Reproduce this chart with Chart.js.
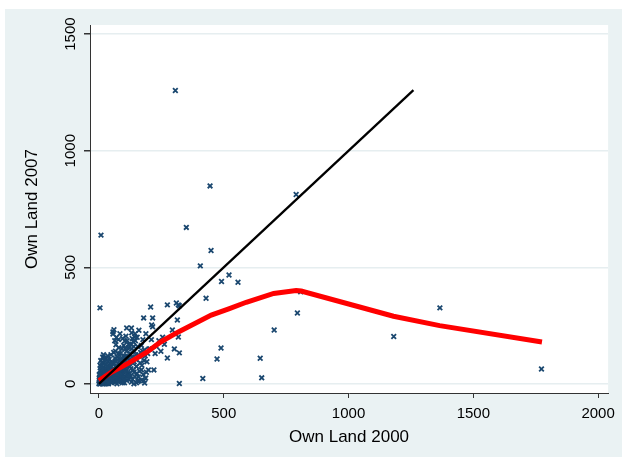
<!DOCTYPE html>
<html>
<head>
<meta charset="utf-8">
<script src="https://cdn.jsdelivr.net/npm/chart.js@4"></script>
<style>
  html, body { margin: 0; padding: 0; background: #fff; }
  #wrap { width: 622px; height: 457px; }
</style>
</head>
<body>
<div id="wrap"><canvas id="myChart" width="622" height="457"></canvas></div>
<script>
'use strict';

// scatter: own land in 2000 (x) vs own land in 2007 (y)
const ownLand2000 = [
  306,445,790,350,8,449,406,521,491,557,429,4,1366,795,1181,702,1773,489,473,646,652,416,322,808,
  207,274,310,318,322,314,294,318,302,322,274,179,215,211,215,
  171,183,179,150,160,140,130,255,240,230,262,248,225,200,185,170,188,176,160,145,130,111,131,143,103,56,56,60,
  0,2,5,8,10,12,15,18,20,22,25,28,30,32,35,38,40,42,45,48,50,3,6,9,4,7,14,16,19,24,27,33,36,44,47,
  11,13,17,21,26,29,31,34,37,39,41,43,46,49,1,2,6,9,23,52,55,58,60,62,65,68,70,72,75,78,80,82,85,88,
  90,92,95,98,100,102,105,108,110,112,115,118,120,122,125,128,132,135,138,140,142,148,150,155,158,160,
  165,170,175,180,190,195,205,210,220,
  3,4,6,7,10,12,14,16,18,20,22,24,26,28,30,33,36,40,44,46,50,54,57,61,64,67,70,74,77,81,84,87,91,94,97,
  101,104,107,111,114,117,121,124,127,131,134,137,141,144,147,152,156,162,167,172,177,182,187,192,198,
  5,8,11,15,18,23,29,35,41,48,53,59,66,73,79,86,93,99,106,113,119,126,133,139,146,153,63,70,84,95,108,68,78,
  2,5,9,13,17,21,25,29,33,37,41,45,49,53,57,61,65,69,73,77,81,85,89,93,97,101,105,109,113,117,
  1,4,8,12,16,20,24,28,32,36,40,44,48,52,56,60,64,68,72,76,80,84,88,92,96,100,104,108
];
const ownLand2007 = [
  1258,849,812,671,638,572,506,467,439,436,367,326,326,304,203,231,64,154,107,110,26,23,2,395,
  330,339,347,339,335,274,231,201,150,133,111,283,283,253,245,
  17,4,13,5,15,0,8,200,185,160,170,140,130,150,120,165,215,190,230,215,240,240,219,201,184,223,214,232,
  0,5,0,12,3,20,8,0,15,30,5,18,40,10,25,0,50,12,35,20,5,30,45,60,80,100,55,70,90,65,110,75,95,60,85,
  38,2,48,58,42,0,28,52,15,68,33,78,8,45,15,22,10,25,2,30,60,15,90,40,110,25,70,0,50,130,85,35,100,20,
  60,150,75,40,120,5,90,55,140,30,80,170,100,45,130,65,115,90,180,50,140,105,75,160,30,120,
  90,60,140,100,50,130,150,190,60,
  3,10,2,18,10,6,28,12,35,4,22,14,8,32,20,3,40,22,15,28,40,10,48,22,55,8,38,18,62,12,48,70,28,5,55,
  80,25,65,15,45,110,20,75,35,150,20,60,95,30,125,45,10,55,135,80,40,145,25,95,60,
  55,75,90,115,125,100,85,120,105,125,95,135,140,115,155,130,110,165,150,185,155,170,195,160,185,200,185,200,215,195,205,168,190,
  8,16,4,26,44,6,36,62,18,52,28,70,10,88,46,34,98,20,74,56,12,104,40,82,66,24,118,58,92,36,
  40,20,33,8,64,26,48,12,72,4,58,38,86,18,66,50,30,96,44,10,76,62,108,26,84,16,52,116
];

// lowess smooth (red)
const lowessX = [0, 50, 120, 190, 250, 320, 450, 520, 590, 700, 790, 810, 1180, 1365, 1775];
const lowessY = [14, 50, 90, 135, 182, 224, 295, 322, 350, 388, 400, 398, 290, 250, 180];

// 45 degree line (black)
const diagX = [0, 1260];
const diagY = [0, 1260];

const xTicks = [0, 500, 1000, 1500, 2000];
const yTicks = [0, 500, 1000, 1500];

const fontName = "'Liberation Sans', Arial, Helvetica, sans-serif";
const navy = '#1a476f';
const axisGrey = '#333333';

function pairs(xs, ys) {
  let out = [];
  for (let i = 0; i < xs.length; i++) {
    out.push({x: xs[i], y: ys[i]});
  }
  return out;
}

const backdrop = {
  id: 'backdrop',
  beforeDraw(chart) {
    const ctx = chart.ctx;
    const a = chart.chartArea;
    ctx.save();
    ctx.fillStyle = '#ffffff';
    ctx.fillRect(0, 0, chart.width, chart.height);
    ctx.fillStyle = '#eaf2f3';
    ctx.fillRect(5, 9, chart.width - 5, chart.height - 9);
    ctx.fillStyle = '#ffffff';
    ctx.fillRect(a.left, a.top, a.right - a.left, a.bottom - a.top);
    ctx.restore();
  }
};

// y tick labels are turned like the stata ones (reading upwards)
const yLabels = {
  id: 'yLabels',
  afterDraw(chart) {
    const ctx = chart.ctx;
    const y = chart.scales.y;
    ctx.save();
    ctx.font = '15px ' + fontName;
    ctx.fillStyle = '#000';
    ctx.textAlign = 'center';
    ctx.textBaseline = 'middle';
    for (let i = 0; i < yTicks.length; i++) {
      const py = y.getPixelForValue(yTicks[i]);
      ctx.save();
      ctx.translate(71, py);
      ctx.rotate(-Math.PI / 2);
      ctx.fillText(String(yTicks[i]), 0, 0);
      ctx.restore();
    }
    ctx.restore();
  }
};

let ctx = document.getElementById('myChart').getContext('2d');
let myChart = new Chart(ctx, {
  type: 'scatter',
  data: {
    datasets: [
      {
        type: 'line',
        label: '45 degree',
        data: pairs(diagX, diagY),
        borderColor: '#000000',
        borderWidth: 2.3,
        pointRadius: 0,
        fill: false,
        order: 0
      },
      {
        type: 'line',
        label: 'lowess',
        data: pairs(lowessX, lowessY),
        borderColor: '#ff0000',
        borderWidth: 5,
        pointRadius: 0,
        tension: 0,
        fill: false,
        order: 1
      },
      {
        label: 'Own Land 2007',
        data: pairs(ownLand2000, ownLand2007),
        pointStyle: 'crossRot',
        pointRadius: 3.3,
        borderColor: navy,
        backgroundColor: navy,
        borderWidth: 1.8,
        order: 2
      }
    ]
  },
  options: {
    responsive: false,
    animation: false,
    events: [],
    layout: { padding: { top: 25, right: 10, left: 0, bottom: 0 } },
    plugins: { legend: { display: false }, tooltip: { enabled: false } },
    scales: {
      x: {
        type: 'linear',
        min: -36,
        max: 2040,
        afterBuildTicks: (s) => { s.ticks = xTicks.map(v => ({value: v})); },
        afterFit: (s) => { s.height = 64; },
        grid: { drawOnChartArea: false, drawTicks: true, tickLength: 5, tickColor: axisGrey },
        border: { color: axisGrey, width: 1 },
        ticks: {
          color: '#000',
          font: { family: fontName, size: 15 },
          padding: 7,
          maxRotation: 0,
          callback: (v) => String(v)
        },
        title: { display: true, text: 'Own Land 2000', color: '#000', font: { family: fontName, size: 17 }, padding: { top: 0, bottom: 9 } }
      },
      y: {
        type: 'linear',
        min: -39,
        max: 1539,
        afterBuildTicks: (s) => { s.ticks = yTicks.map(v => ({value: v})); },
        afterFit: (s) => { s.width = 90; },
        grid: { color: '#e6eef0', lineWidth: 1.5, drawTicks: true, tickLength: 6, tickColor: axisGrey },
        border: { color: axisGrey, width: 1 },
        ticks: { display: false },
        title: { display: true, text: 'Own Land 2007', color: '#000', font: { family: fontName, size: 17 }, padding: { top: 22, bottom: 0 } }
      }
    }
  },
  plugins: [backdrop, yLabels]
});
</script>
</body>
</html>
